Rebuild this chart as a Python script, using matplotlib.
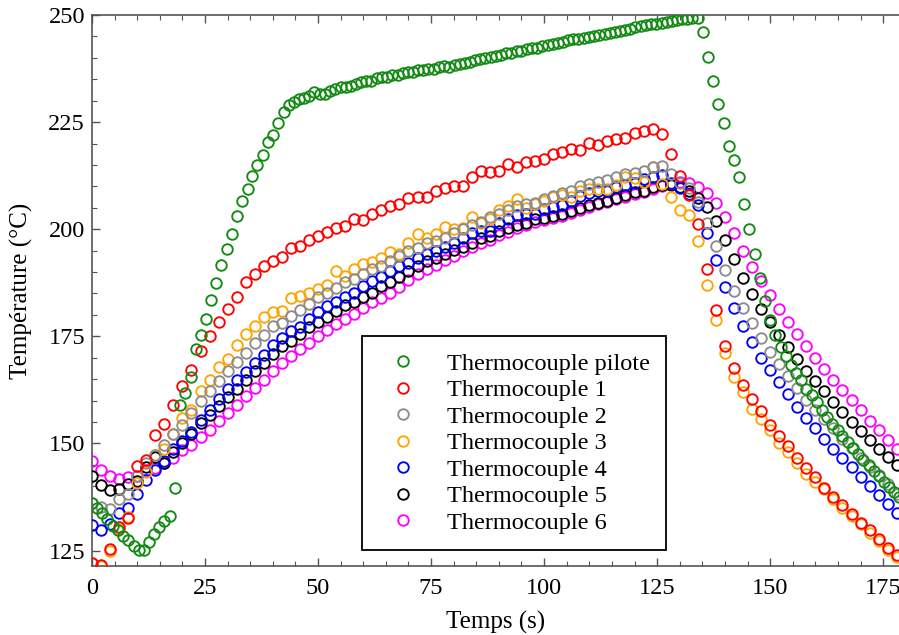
import matplotlib
matplotlib.use("Agg")
import matplotlib.pyplot as plt
from matplotlib.ticker import MultipleLocator

plt.rcParams['font.family'] = ['Liberation Serif', 'DejaVu Serif']

# ---------------- data ----------------
labels = ["Thermocouple pilote", "Thermocouple 1", "Thermocouple 2", "Thermocouple 3",
          "Thermocouple 4", "Thermocouple 5", "Thermocouple 6"]
colors = ["#138a13", "#ff0000", "#8c8c8c", "#ffa500", "#0000ff", "#000000", "#ff00ff"]

t_pilot = [0, 1.1, 2.3, 3.4, 4.6, 5.7, 6.9, 8.0, 9.2, 10.3, 11.5, 12.6, 13.7, 14.9, 16.0, 17.2,
           18.3, 19.5, 20.6, 21.8, 22.9, 24.0, 25.2, 26.3, 27.5, 28.6, 29.8, 30.9, 32.1, 33.2,
           34.4, 35.5, 36.6, 37.8, 38.9, 40.1, 41.2, 42.4, 43.5, 44.7, 45.8, 46.9, 48.1, 49.2,
           50.4, 51.5, 52.7, 53.8, 55.0, 56.1, 57.3, 58.4, 59.5, 60.7, 61.8, 63.0, 64.1, 65.3,
           66.4, 67.6, 68.7, 69.8, 71.0, 72.1, 73.3, 74.4, 75.6, 76.7, 77.9, 79.0, 80.2, 81.3,
           82.4, 83.6, 84.7, 85.9, 87.0, 88.2, 89.3, 90.5, 91.6, 92.7, 93.9, 95.0, 96.2, 97.3,
           98.5, 99.6, 100.8, 101.9, 103.1, 104.2, 105.3, 106.5, 107.6, 108.8, 109.9, 111.1,
           112.2, 113.4, 114.5, 115.6, 116.8, 117.9, 119.1, 120.2, 121.4, 122.5, 123.7, 124.8,
           126.0, 127.1, 128.2, 129.4, 130.5, 131.7, 132.8, 134.0, 135.1, 136.3, 137.4, 138.5,
           139.7, 140.8, 142.0, 143.1, 144.3, 145.4, 146.6, 147.7, 148.9, 150.0, 151.1, 152.3,
           153.4, 154.6, 155.7, 156.9, 158.0, 159.2, 160.3, 161.4, 162.6, 163.7, 164.9, 166.0,
           167.2, 168.3, 169.5, 170.6, 171.8, 172.9, 174.0, 175.2, 176.3, 177.5, 178.6]
T_pilot = [136.2, 134.9, 133.7, 132.3, 130.8, 129.8, 128.4, 127.4, 126.0, 125.2, 125.2, 127.1,
           128.8, 130.6, 131.9, 133.1, 139.7, 159.0, 161.7, 165.4, 172.1, 175.4, 179.0, 183.5,
           187.4, 191.6, 195.5, 199.0, 203.1, 206.7, 209.5, 212.5, 215.1, 217.4, 220.3, 222.1,
           224.9, 227.3, 228.9, 229.6, 230.4, 230.6, 231.2, 232.0, 231.6, 231.5, 232.3, 232.8,
           233.1, 233.2, 233.5, 234.0, 234.3, 234.5, 234.7, 235.3, 235.6, 235.5, 235.9, 236.0,
           236.4, 236.7, 236.8, 237.1, 237.2, 237.3, 237.4, 237.9, 238.2, 237.9, 238.3, 238.5,
           238.9, 239.1, 239.4, 239.7, 240.0, 240.2, 240.5, 240.7, 241.1, 241.2, 241.6, 241.7,
           242.0, 242.3, 242.4, 242.8, 243.0, 243.3, 243.5, 243.7, 244.1, 244.3, 244.4, 244.6,
           244.9, 245.2, 245.3, 245.6, 245.9, 246.1, 246.3, 246.5, 246.8, 247.2, 247.4, 247.6,
           247.9, 248.0, 248.2, 248.4, 248.6, 248.8, 249.0, 249.1, 249.3, 249.4, 246.1, 240.3,
           234.6, 229.3, 224.8, 219.5, 216.1, 212.1, 205.8, 200.0, 194.3, 188.6, 183.3, 178.8,
           175.2, 172.6, 170.5, 168.2, 166.4, 164.7, 162.8, 161.2, 159.7, 157.9, 156.2, 154.6,
           153.2, 151.7, 150.3, 148.9, 147.5, 146.2, 144.9, 143.6, 142.3, 141.0, 139.8, 138.6,
           137.5]

t_tc = [0, 2, 4, 6, 8, 10, 12, 14, 16, 18, 20, 22, 24, 26, 28, 30, 32, 34, 36, 38,
        40, 42, 44, 46, 48, 50, 52, 54, 56, 58, 60, 62, 64, 66, 68, 70, 72, 74, 76, 78,
        80, 82, 84, 86, 88, 90, 92, 94, 96, 98, 100, 102, 104, 106, 108, 110, 112, 114, 116, 118,
        120, 122, 124, 126, 128, 130, 132, 134, 136, 138, 140, 142, 144, 146, 148, 150, 152, 154, 156, 158,
        160, 162, 164, 166, 168, 170, 172, 174, 176, 178]

T_tc1 = [122.1, 121.7, 125.3, 130.4, 132.5, 144.8, 146.1, 151.9, 154.5, 158.9,
         163.4, 167.2, 171.5, 175.1, 178.3, 181.4, 184.2, 187.6, 189.6, 191.5,
         192.6, 193.6, 195.6, 196.1, 197.5, 198.4, 199.4, 200.2, 200.7, 202.5,
         202.1, 203.5, 204.4, 205.4, 205.8, 207.3, 207.5, 207.5, 208.9, 209.7,
         210.0, 210.2, 212.3, 213.5, 213.3, 213.5, 215.2, 214.5, 215.7, 216.0,
         216.3, 217.6, 218.0, 218.7, 218.6, 220.1, 219.7, 220.7, 221.1, 221.3,
         222.4, 223.0, 223.5, 222.2, 217.6, 212.5, 207.9, 201.3, 190.7, 181.1,
         172.8, 167.6, 163.7, 160.3, 157.6, 154.2, 151.7, 149.3, 146.6, 144.3,
         142.1, 139.7, 137.6, 135.6, 133.5, 131.5, 129.7, 127.7, 125.7, 123.9]

T_tc2 = [136.0, 135.2, 134.8, 137.1, 138.2, 142.4, 145.5, 147.4, 149.6, 152.1,
         154.4, 157.1, 159.8, 162.2, 164.5, 166.8, 169.1, 171.2, 173.4, 175.4,
         177.3, 178.1, 179.8, 181.1, 182.5, 184.1, 185.0, 186.4, 187.6, 188.3,
         189.5, 190.7, 191.4, 192.5, 193.8, 194.9, 195.7, 196.9, 197.3, 198.0,
         199.2, 200.1, 201.1, 201.7, 202.8, 203.6, 204.4, 205.4, 205.8, 206.2,
         207.0, 207.7, 208.5, 209.0, 210.0, 210.6, 211.0, 211.6, 212.1, 212.8,
         213.1, 213.7, 214.6, 214.7, 212.9, 210.8, 209.7, 206.3, 201.5, 196.1,
         190.5, 185.5, 181.6, 178.0, 174.7, 171.4, 168.6, 165.8, 163.0, 160.2,
         157.9, 155.8, 153.5, 151.1, 149.0, 146.7, 144.5, 142.6, 140.5, 138.3]

T_tc3 = [122.0, 121.5, 124.8, 130.0, 132.9, 140.7, 143.4, 147.3, 148.8, 152.3,
         156.0, 157.9, 162.2, 164.7, 167.8, 169.7, 173.0, 175.5, 177.4, 179.4,
         180.6, 180.8, 183.9, 184.5, 185.2, 186.0, 187.0, 190.3, 189.1, 190.7,
         192.0, 192.4, 193.2, 194.8, 194.2, 196.9, 198.8, 198.0, 198.8, 200.5,
         200.0, 200.3, 202.8, 201.5, 202.3, 204.4, 205.4, 207.0, 205.0, 205.8,
         206.6, 207.6, 208.1, 207.5, 208.9, 209.3, 209.5, 209.5, 210.4, 212.1,
         212.0, 211.1, 214.5, 210.6, 207.5, 204.5, 203.3, 197.2, 187.1, 178.8,
         171.2, 165.6, 162.1, 158.1, 155.8, 153.1, 150.1, 148.0, 145.5, 142.8,
         141.0, 139.3, 137.0, 134.9, 133.0, 131.2, 129.0, 127.2, 125.2, 123.5]

T_tc4 = [131.0, 129.7, 131.2, 133.8, 135.0, 138.2, 141.4, 143.8, 145.9, 148.7,
         150.6, 152.7, 155.4, 157.9, 160.4, 162.8, 164.7, 166.6, 168.7, 170.6,
         172.9, 174.7, 176.3, 177.1, 179.0, 180.6, 182.1, 183.1, 184.2, 185.0,
         186.8, 188.0, 188.9, 190.3, 191.4, 192.2, 193.4, 194.2, 194.9, 195.9,
         196.9, 198.0, 199.2, 199.6, 199.7, 201.5, 202.3, 203.3, 203.6, 203.6,
         204.8, 205.3, 205.6, 206.6, 207.8, 208.5, 208.9, 209.0, 209.9, 210.4,
         210.7, 211.8, 212.2, 212.7, 210.8, 209.7, 208.2, 205.6, 199.2, 192.8,
         186.6, 181.5, 177.5, 173.7, 170.0, 167.1, 164.4, 161.6, 158.5, 156.0,
         153.5, 151.1, 148.8, 146.5, 144.4, 142.2, 140.0, 138.0, 135.8, 133.8]

T_tc5 = [142.3, 140.4, 139.1, 139.3, 140.5, 141.2, 144.5, 146.9, 145.5, 148.0,
         150.0, 152.3, 154.8, 156.6, 158.8, 160.8, 162.8, 164.8, 166.8, 168.7,
         170.8, 172.8, 173.9, 175.6, 177.2, 178.3, 179.6, 181.0, 182.3, 183.1,
         184.2, 185.2, 186.8, 187.8, 188.9, 190.3, 191.4, 192.6, 193.4, 194.2,
         195.1, 195.9, 196.9, 197.9, 198.4, 199.6, 200.3, 201.1, 201.5, 202.3,
         202.6, 203.2, 203.5, 204.2, 205.0, 205.6, 206.2, 206.7, 207.2, 208.0,
         208.7, 209.0, 209.9, 210.4, 210.3, 209.8, 208.9, 207.3, 205.3, 201.9,
         197.6, 193.1, 188.6, 184.8, 181.4, 178.3, 175.3, 172.4, 169.6, 167.0,
         164.5, 162.3, 159.7, 157.3, 155.0, 152.9, 150.7, 148.8, 146.9, 144.9]

T_tc6 = [146.0, 143.9, 142.4, 141.7, 142.1, 142.4, 143.8, 144.2, 145.5, 146.6,
         148.4, 149.7, 151.5, 153.2, 155.2, 157.0, 158.9, 161.0, 162.9, 164.9,
         166.8, 168.7, 170.3, 172.0, 173.5, 175.0, 176.5, 177.8, 179.0, 180.2,
         181.6, 182.9, 184.0, 185.2, 186.5, 188.2, 189.5, 190.7, 191.7, 192.8,
         193.8, 194.9, 195.9, 196.9, 197.6, 198.7, 199.4, 200.2, 201.1, 201.7,
         202.1, 202.7, 203.2, 203.9, 204.5, 205.2, 205.8, 206.4, 207.0, 207.6,
         208.3, 208.8, 209.5, 210.0, 210.6, 211.0, 210.8, 209.8, 208.4, 206.1,
         202.8, 199.1, 195.0, 191.3, 187.9, 184.7, 181.4, 178.3, 175.6, 172.7,
         170.0, 167.4, 164.8, 162.4, 160.1, 157.8, 155.3, 153.1, 150.9, 148.8]

x_ticks = [0, 25, 50, 75, 100, 125, 150, 175]
y_ticks = [125, 150, 175, 200, 225, 250]

# ---------------- figure ----------------
W, H = 899, 635
fig = plt.figure(figsize=(W / 100, H / 100), dpi=100)
ax = fig.add_axes([92 / W, 1 - 566 / H, (W - 92) / W, (566 - 15) / H])

series = [(t_pilot, T_pilot), (t_tc, T_tc1), (t_tc, T_tc2), (t_tc, T_tc3),
          (t_tc, T_tc4), (t_tc, T_tc5), (t_tc, T_tc6)]
n = len(series)
for i, ((tx, ty), lab, col) in enumerate(zip(series, labels, colors)):
    ax.plot(tx, ty, linestyle='none', marker='o', markersize=7.6, markerfacecolor='none',
            markeredgecolor=col, markeredgewidth=1.35, label=lab, zorder=10 + (n - i))

ax.set_xlim(0, 178.5)
ax.set_ylim(121.4, 250)
ax.set_xticks(x_ticks)
ax.set_yticks(y_ticks)
ax.xaxis.set_minor_locator(MultipleLocator(5))
ax.yaxis.set_minor_locator(MultipleLocator(5))

spine_col = '#555555'
for s in ['left', 'bottom', 'top']:
    ax.spines[s].set_color(spine_col)
    ax.spines[s].set_linewidth(1.2)
ax.spines['right'].set_visible(False)

ax.tick_params(axis='both', which='both', direction='in', color=spine_col,
               top=True, right=False, labelsize=17.5)
ax.tick_params(axis='both', which='major', length=6, width=1.0)
ax.tick_params(axis='both', which='minor', length=3.5, width=0.8)
ax.tick_params(axis='x', which='major', pad=9)
ax.tick_params(axis='y', which='major', pad=5)

ax.set_xlabel("Temps (s)", fontsize=18, labelpad=8)
ax.set_ylabel("Température (°C)", fontsize=18, labelpad=11)

leg = ax.legend(loc='upper left', bbox_to_anchor=(362 / W, 1 - 336 / H),
                bbox_transform=fig.transFigure, borderaxespad=0, fontsize=17.5,
                numpoints=1, handlelength=2.0, handletextpad=0.8, labelspacing=0.185,
                borderpad=0.68, fancybox=False, shadow=False, framealpha=1)
leg.get_frame().set_edgecolor('black')
leg.get_frame().set_linewidth(1.3)
leg.set_zorder(50)

fig.savefig("out.png", dpi=100)
